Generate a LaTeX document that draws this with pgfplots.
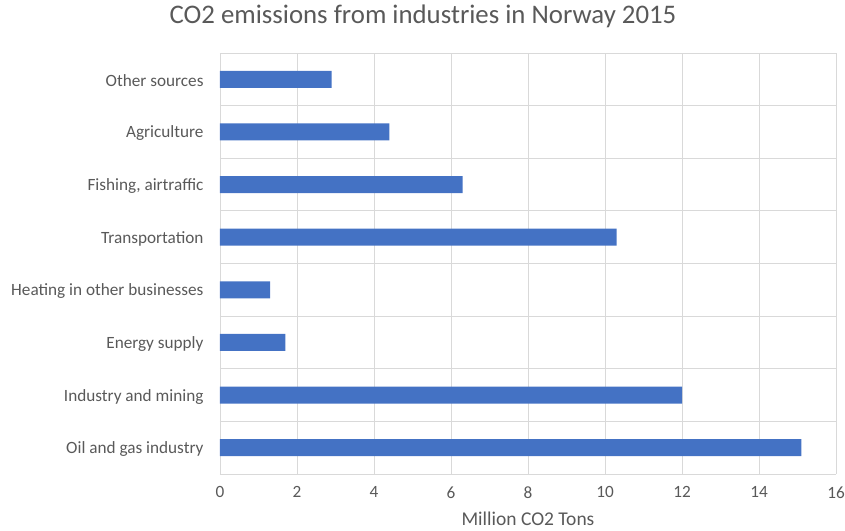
\documentclass[border=0pt]{standalone}
\usepackage{pgfplots}
\pgfplotsset{compat=1.18}
\usepackage{fontspec}
\setmainfont{Carlito}
\definecolor{barblue}{RGB}{68,114,196}
\definecolor{gridgray}{RGB}{217,217,217}
\definecolor{txtgray}{RGB}{89,89,89}
\begin{document}
\begin{tikzpicture}
\begin{axis}[
  at={(0pt,0pt)}, anchor=south west,
  scale only axis,
  width=616pt, height=421pt,
  xbar, bar width=17pt,
  xmin=0, xmax=16,
  ymin=-0.5, ymax=7.5,
  xtick={0,2,...,16},
  ytick={0,...,7},
  yticklabels={Oil and gas industry, Industry and mining, Energy supply, Heating in other businesses, Transportation, {Fishing, airtraffic}, Agriculture, Other sources},
  extra y ticks={-0.5,0.5,...,7.5},
  extra y tick labels={},
  extra y tick style={grid=major},
  xmajorgrids=true,
  major grid style={draw=gridgray, line width=0.9pt},
  axis line style={draw=none},
  major tick length=0pt,
  tick style={draw=none},
  /pgf/number format/assume math mode=true,
  ticklabel style={font=\fontsize{17.2}{20}\selectfont, text=txtgray},
  xticklabel style={yshift=-9pt},
  yticklabel style={xshift=-13pt, yshift=-1.5pt},
  xlabel={Million CO2 Tons},
  xlabel style={font=\fontsize{19.5}{22}\selectfont, text=txtgray, yshift=-6.5pt},
  title={CO2 emissions from industries in Norway 2015},
  title style={font=\fontsize{26.8}{30}\selectfont, text=txtgray, at={(0.5,1)}, anchor=center, xshift=-105pt, yshift=31pt},
]
\addplot[fill=barblue, draw=none] coordinates {
  (15.1,0) (12.0,1) (1.7,2) (1.3,3) (10.3,4) (6.3,5) (4.4,6) (2.9,7)
};
\end{axis}
\pgfresetboundingbox
\path[use as bounding box] (-220pt,-56pt) rectangle (625pt,474pt);
\end{tikzpicture}
\end{document}
